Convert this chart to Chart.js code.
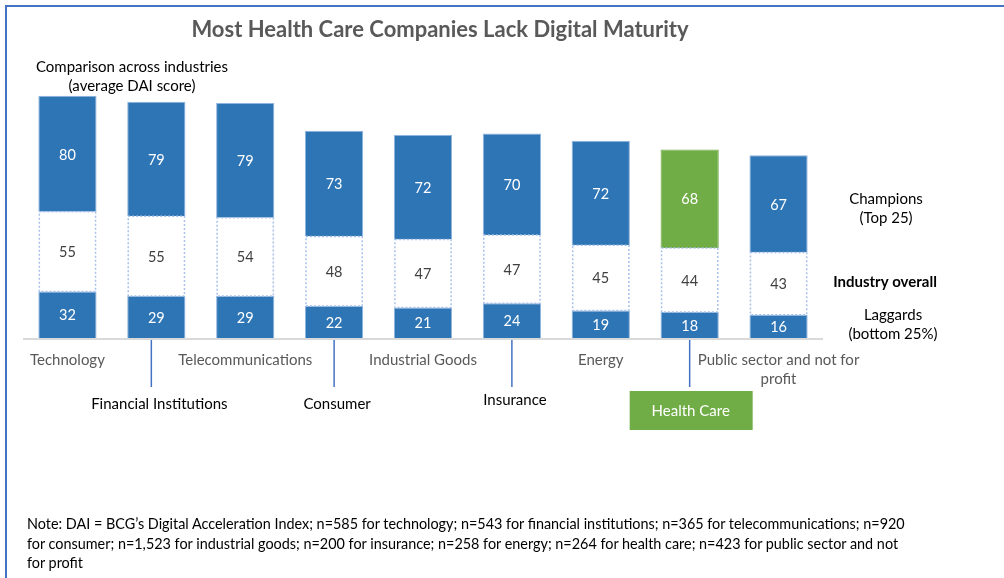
<!DOCTYPE html>
<html>
<head>
<meta charset="utf-8">
<script src="https://cdn.jsdelivr.net/npm/chart.js@4.4.1/dist/chart.umd.min.js"></script>
<style>
  body { margin: 0; background: #fff; }
  #wrap { position: relative; width: 1004px; height: 578px; overflow: hidden; }
  #frame { position: absolute; left: 5px; top: 5px; width: 1100px; height: 700px; border: 2px solid #4472C4; }
  #note { position: absolute; left: 27px; top: 514px; width: 880px; font: 14.4px Lato, sans-serif; line-height: 19.5px; color: #000; }
  canvas { position: absolute; left: 0; top: 0; }
</style>
</head>
<body>
<div id="wrap">
  <div id="frame"></div>
  <canvas id="daiChart" width="1004" height="578"></canvas>
  <div id="note">Note: DAI = BCG’s Digital Acceleration Index; n=585 for technology; n=543 for financial institutions; n=365 for telecommunications; n=920 for consumer; n=1,523 for industrial goods; n=200 for insurance; n=258 for energy; n=264 for health care; n=423 for public sector and not for profit</div>
</div>
<script>
const categories = ["Technology", "Financial Institutions", "Telecommunications", "Consumer",
  "Industrial Goods", "Insurance", "Energy", "Health Care", ["Public sector and not for", "profit"]];
const laggards = [32, 29, 29, 22, 21, 24, 19, 18, 16];
const overall = [55, 55, 54, 48, 47, 47, 45, 44, 43];
const champions = [80, 79, 79, 73, 72, 70, 72, 68, 67];
const highlight = "Health Care";

const blue = "#2E75B6";
const green = "#70AD47";
const font = "Lato, sans-serif";

function isHighlight(i) { return categories[i] === highlight; }

const labelPlugin = {
  id: "labels",
  afterDatasetsDraw(chart) {
    const ctx = chart.ctx;
    const area = chart.chartArea;
    const xs = chart.scales.x;
    ctx.save();

    // dotted outline of the middle segment
    const mid = chart.getDatasetMeta(1);
    ctx.strokeStyle = "#A9C1E8";
    ctx.lineWidth = 1.5;
    ctx.setLineDash([2, 2]);
    mid.data.forEach(bar => {
      const p = bar.getProps(["x", "y", "base", "width"], true);
      ctx.strokeRect(p.x - p.width / 2 + 1, p.y, p.width - 2, p.base - p.y);
    });
    ctx.setLineDash([]);

    // values inside the segments
    ctx.textAlign = "center";
    ctx.textBaseline = "middle";
    ctx.font = "14.5px " + font;
    chart.data.datasets.forEach((ds, d) => {
      chart.getDatasetMeta(d).data.forEach((bar, i) => {
        const p = bar.getProps(["x", "y", "base"], true);
        ctx.fillStyle = d === 1 ? "#404040" : "#fff";
        ctx.fillText(ds.data[i], p.x, (p.y + p.base) / 2 + 1);
      });
    });

    // axis line
    ctx.strokeStyle = "#D9D9D9";
    ctx.lineWidth = 2;
    ctx.beginPath();
    ctx.moveTo(area.left, area.bottom + 1);
    ctx.lineTo(area.right, area.bottom + 1);
    ctx.stroke();

    // category labels, staggered
    ctx.font = "15px " + font;
    categories.forEach((label, i) => {
      const cx = xs.getPixelForValue(i);
      const lines = Array.isArray(label) ? label : [label];
      if (i % 2 === 0) {
        ctx.fillStyle = "#595959";
        lines.forEach((t, k) => ctx.fillText(t, cx, 360 + k * 19));
      } else {
        const lx = i === 1 ? cx - 5 : cx;
        ctx.strokeStyle = "#4472C4";
        ctx.lineWidth = 1.5;
        ctx.beginPath();
        ctx.moveTo(lx, area.bottom + 2);
        ctx.lineTo(lx, 387);
        ctx.stroke();
        if (isHighlight(i)) {
          ctx.fillStyle = green;
          ctx.fillRect(cx - 60, 391, 123, 39);
          ctx.fillStyle = "#fff";
          ctx.fillText(lines[0], cx + 1, 411);
        } else {
          ctx.fillStyle = "#000";
          ctx.fillText(lines[0], cx + 3, i === 5 ? 400 : 404);
        }
      }
    });

    // side annotations
    ctx.fillStyle = "#000";
    ctx.fillText("Champions", 886, 199);
    ctx.fillText("(Top 25)", 886, 218);
    ctx.fillText("Laggards", 893, 315);
    ctx.fillText("(bottom 25%)", 893, 334);
    ctx.font = "bold 15px " + font;
    ctx.fillText("Industry overall", 885, 282);

    // subtitle and title
    ctx.font = "15px " + font;
    ctx.fillText("Comparison across industries", 132, 67);
    ctx.fillText("(average DAI score)", 132, 86);
    ctx.fillStyle = "#595959";
    ctx.font = "bold 22px " + font;
    ctx.fillText("Most Health Care Companies Lack Digital Maturity", 440, 30);
    ctx.restore();
  }
};

new Chart(document.getElementById("daiChart"), {
  type: "bar",
  data: {
    labels: categories,
    datasets: [
      { label: "Laggards", data: laggards, backgroundColor: blue, borderColor: "#8FB4DE", borderWidth: 1 },
      { label: "Industry overall", data: overall, backgroundColor: "#fff", borderWidth: 0 },
      { label: "Champions", data: champions,
        backgroundColor: categories.map((c, i) => isHighlight(i) ? green : blue),
        borderColor: categories.map((c, i) => isHighlight(i) ? green : "#8FB4DE"), borderWidth: 1 }
    ]
  },
  plugins: [labelPlugin],
  options: {
    responsive: false,
    animation: false,
    devicePixelRatio: 1,
    layout: { padding: { left: 23, right: 181, top: 77, bottom: 240 } },
    datasets: { bar: { barPercentage: 0.655, categoryPercentage: 1 } },
    plugins: { legend: { display: false }, tooltip: { enabled: false } },
    scales: {
      x: { display: false, stacked: true },
      y: { display: false, stacked: true, min: 0, max: 180 }
    }
  }
});
</script>
</body>
</html>
